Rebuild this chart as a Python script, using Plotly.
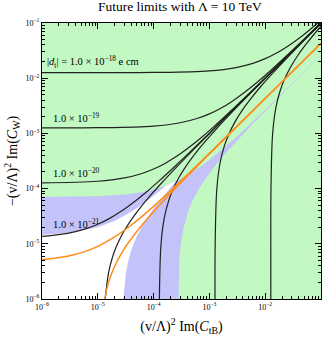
import math
import plotly.graph_objects as go

# ---------------- data ----------------
TICK_VALS = [1e-6, 1e-5, 1e-4, 1e-3, 1e-2, 1e-1]
TICK_TEXT = ["10<sup>−6</sup>", "10<sup>−5</sup>", "10<sup>−4</sup>",
             "10<sup>−3</sup>", "10<sup>−2</sup>", "10<sup>−1</sup>"]
MINOR_VALS = [m * 10.0**e for e in range(-6, -1) for m in range(2, 10)]

# |d_t| contours: "horizontal" branches (x -> y) and "vertical" branches (y -> x)
H21_X = [1e-6, 3e-6, 6e-6, 1e-5, 1.6e-5, 2.5e-5, 4e-5, 7e-5, 1.2e-4, 2.5e-4, 6e-4, 2e-3, 1e-2, 0.1]
H21_Y = [1.36e-5, 1.56e-5, 1.86e-5, 2.26e-5, 2.86e-5, 3.76e-5, 5.26e-5, 8.26e-5, 1.326e-4, 2.626e-4, 6.126e-4, 2.0126e-3, 1.00126e-2, 0.1000126]
H20_X = [1e-6, 1e-5, 3e-5, 6e-5, 1e-4, 1.6e-4, 2.5e-4, 4e-4, 7e-4, 1.2e-3, 2.5e-3, 6e-3, 2e-2, 0.1]
H20_Y = [1.27e-4, 1.36e-4, 1.56e-4, 1.86e-4, 2.26e-4, 2.86e-4, 3.76e-4, 5.26e-4, 8.26e-4, 1.326e-3, 2.626e-3, 6.126e-3, 2.0126e-2, 0.100126]
H19_X = [1e-6, 1e-5, 1e-4, 3e-4, 6e-4, 1e-3, 1.6e-3, 2.5e-3, 4e-3, 7e-3, 1.2e-2, 2.5e-2, 5e-2, 0.1]
H19_Y = [1.261e-3, 1.27e-3, 1.36e-3, 1.56e-3, 1.86e-3, 2.26e-3, 2.86e-3, 3.76e-3, 5.26e-3, 8.26e-3, 1.326e-2, 2.626e-2, 5.126e-2, 0.10126]
H18_X = [1e-6, 1e-5, 1e-4, 1e-3, 3e-3, 6e-3, 1e-2, 1.6e-2, 2.5e-2, 4e-2, 6e-2, 8.74e-2]
H18_Y = [1.26e-2, 1.26e-2, 1.27e-2, 1.36e-2, 1.56e-2, 1.86e-2, 2.26e-2, 2.86e-2, 3.76e-2, 5.26e-2, 7.26e-2, 0.1]

CONTOUR_LABELS = ["|<i>d</i><sub>t</sub>| = 1.0 × 10<sup>−18</sup> e cm",
                  "1.0 × 10<sup>−19</sup>", "1.0 × 10<sup>−20</sup>", "1.0 × 10<sup>−21</sup>"]
LABEL_X = [1.13e-6, 1.45e-6, 1.45e-6, 1.45e-6]
LABEL_Y = [2.0e-2, 1.98e-3, 1.92e-4, 2.38e-5]

# orange contour
OH_X = [1e-6, 3e-6, 6e-6, 1e-5, 2e-5, 4e-5, 1e-4, 3e-4, 1e-3, 1e-2, 0.1]
OH_Y = [5.13e-6, 5.99e-6, 7.28e-6, 9.0e-6, 1.33e-5, 2.19e-5, 4.77e-5, 1.337e-4, 4.347e-4, 4.3047e-3, 4.30047e-2]
OV_Y = [1e-6, 2e-6, 4e-6, 7e-6, 1e-5, 2e-5, 5e-5, 1e-4, 3e-4, 1e-3, 1e-2, 4.3e-2]
OV_X = [1.326e-5, 1.558e-5, 2.023e-5, 2.721e-5, 3.419e-5, 5.744e-5, 1.272e-4, 2.435e-4, 7.086e-4, 2.3365e-3, 2.3267e-2, 0.1]

# blue allowed band: upper boundary then lower boundary
BLUE_UP_X = [1e-7, 1e-6, 1e-5, 3e-5, 6e-5, 1e-4, 1.5e-4, 2e-4, 3e-4, 5e-4, 7e-4, 1e-3, 1.5e-3, 2.5e-3, 4e-3, 7e-3, 1.5e-2, 4e-2, 0.1, 0.2]
BLUE_UP_Y = [7.0e-5, 7.03e-5, 7.26e-5, 7.78e-5, 8.56e-5, 9.6e-5, 1.09e-4, 1.22e-4, 1.48e-4, 2.0e-4, 2.52e-4, 3.3e-4, 4.6e-4, 7.2e-4, 1.11e-3, 1.89e-3, 3.97e-3, 1.047e-2, 2.607e-2, 5.207e-2]
BLUE_LO_Y = [5.2e-2, 2.6e-2, 1e-2, 4e-3, 1.8e-3, 1e-3, 6e-4, 4e-4, 2.5e-4, 1.5e-4, 1e-4, 6e-5, 4e-5, 2e-5, 1e-5, 5e-6, 1e-6, 1e-7]
BLUE_LO_X = [0.2003, 0.1003, 3.873e-2, 1.565e-2, 7.19e-3, 4.115e-3, 2.577e-3, 1.808e-3, 1.231e-3, 8.46e-4, 6.54e-4, 5.0e-4, 4.23e-4, 3.46e-4, 3.077e-4, 2.885e-4, 2.731e-4, 2.696e-4]

# white region (inside both bands)
WHITE_X = [1e-7, 1e-7, 1e-6, 3e-6, 1e-5, 2e-5, 4e-5, 7e-5, 1.1e-4, 1.65e-4, 2e-4, 2.535e-4,
           2e-4, 1.5e-4, 1e-4, 7e-5, 5e-5, 4e-5, 3.5e-5, 3.2e-5, 3e-5, 2.87e-5, 2.8e-5, 2.72e-5]
WHITE_Y = [1e-7, 1.40e-5, 1.46e-5, 1.58e-5, 2.0e-5, 2.6e-5, 3.8e-5, 5.6e-5, 8.0e-5, 1.129e-4, 1.22e-4, 1.359e-4,
           1.038e-4, 7.38e-5, 4.38e-5, 2.58e-5, 1.38e-5, 7.8e-6, 4.8e-6, 3.0e-6, 1.8e-6, 1.02e-6, 6e-7, 1e-7]

GREEN = "#c2f9c2"
BLUE = "#c3c3f9"
ORANGE = "#ff8c1a"
BLACK = "#222222"
FONT = "Liberation Serif"

fig = go.Figure()

# blue band
fig.add_trace(go.Scatter(x=BLUE_UP_X + BLUE_LO_X + [1e-7], y=BLUE_UP_Y + BLUE_LO_Y + [1e-7],
                         mode="lines", fill="toself", fillcolor=BLUE, line=dict(width=0),
                         hoverinfo="skip", showlegend=False))
# white region
fig.add_trace(go.Scatter(x=WHITE_X, y=WHITE_Y, mode="lines", fill="toself", fillcolor="white",
                         line=dict(width=0), hoverinfo="skip", showlegend=False))

# black contours
for hx, hy in [(H21_X, H21_Y), (H20_X, H20_Y), (H19_X, H19_Y), (H18_X, H18_Y)]:
    fig.add_trace(go.Scatter(x=hx, y=hy, mode="lines", line=dict(color=BLACK, width=1.2, shape="spline"),
                             hoverinfo="skip", showlegend=False))
    fig.add_trace(go.Scatter(x=hy, y=hx, mode="lines", line=dict(color=BLACK, width=1.2, shape="spline"),
                             hoverinfo="skip", showlegend=False))

# orange contours
fig.add_trace(go.Scatter(x=OH_X, y=OH_Y, mode="lines", line=dict(color=ORANGE, width=1.5, shape="spline"),
                         hoverinfo="skip", showlegend=False))
fig.add_trace(go.Scatter(x=OV_X, y=OV_Y, mode="lines", line=dict(color=ORANGE, width=1.5, shape="spline"),
                         hoverinfo="skip", showlegend=False))

for txt, lx, ly in zip(CONTOUR_LABELS, LABEL_X, LABEL_Y):
    fig.add_annotation(x=math.log10(lx), y=math.log10(ly), xref="x", yref="y", text=txt,
                       showarrow=False, xanchor="left", yanchor="middle",
                       font=dict(family=FONT, size=10.5, color="black"))

axis_common = dict(
    type="log", tickmode="array", tickvals=TICK_VALS, ticktext=TICK_TEXT,
    ticks="inside", ticklen=6, tickwidth=1, tickcolor="black",
    showline=True, linecolor="black", linewidth=1, mirror="ticks",
    showgrid=False, zeroline=False, automargin=False,
    tickfont=dict(family=FONT, size=8, color="black"),
    minor=dict(tickmode="array", tickvals=MINOR_VALS, ticks="inside", ticklen=3,
               tickwidth=1, tickcolor="black", showgrid=False),
)

fig.update_xaxes(range=[-6, -1], title=dict(text="(v/Λ)<sup>2</sup> Im(<i>C</i><sub>tB</sub>)",
                 font=dict(family=FONT, size=14, color="black"), standoff=10), **axis_common)
fig.update_yaxes(range=[-6, -1], title=dict(text="−(v/Λ)<sup>2</sup> Im(<i>C</i><sub>W</sub>)",
                 font=dict(family=FONT, size=14, color="black"), standoff=4), **axis_common)

fig.update_layout(
    width=327, height=337,
    margin=dict(l=42, r=6, t=23, b=38),
    plot_bgcolor=GREEN, paper_bgcolor="white",
    title=dict(text="Future limits with Λ = 10 TeV", x=0.55, xanchor="center", y=0.98, yanchor="middle",
               font=dict(family=FONT, size=13.5, color="black")),
    font=dict(family=FONT),
)

fig.write_html("out.html", config={"displayModeBar": False},
               post_script="document.body.style.margin='0';document.body.style.overflow='hidden';")
